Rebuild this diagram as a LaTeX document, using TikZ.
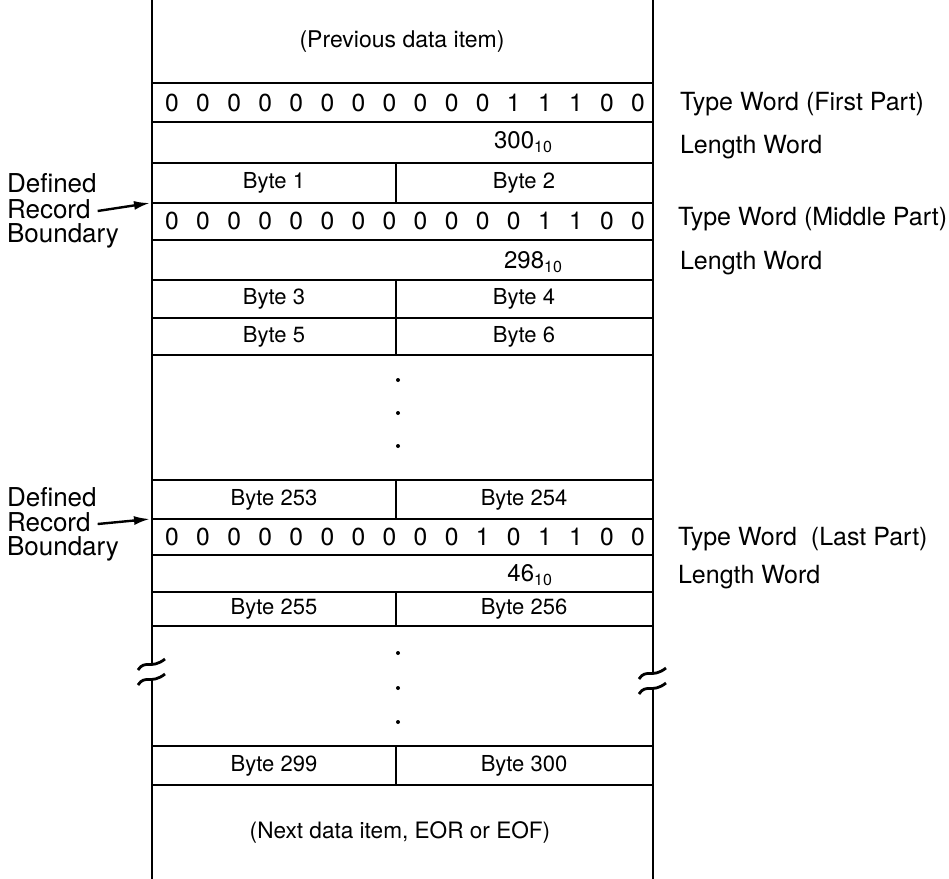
\documentclass[tikz,border=0pt]{standalone}
\usepackage{fontspec}
\setmainfont{TeX Gyre Heros}
\usepackage{tikz}
\usetikzlibrary{arrows.meta}

\begin{document}
\begin{tikzpicture}[x=0.5pt,y=-0.5pt,
  rule/.style={line width=1.4pt},
  brk/.style={line width=1.4pt},
  bitval/.style={font=\fontsize{12.3}{14}\selectfont},
  cellval/.style={font=\fontsize{11}{13}\selectfont},
  lenval/.style={font=\fontsize{12}{14}\selectfont,anchor=east},
  sidenote/.style={font=\fontsize{12.5}{14}\selectfont,anchor=west},
  bndarrow/.style={line width=1.2pt,-{Latex[length=8pt,width=4.5pt]}}]
  \useasboundingbox (0,0) rectangle (949,879);
  \draw[rule] (152,0) -- (152,664);
  \draw[rule] (152,680) -- (152,879);
  \draw[rule] (653,0) -- (653,673);
  \draw[rule] (653,689) -- (653,879);
  \foreach \x/\y in {152/664,152/679,653/673,653/688}
    \draw[brk] (\x-14,\y+6) .. controls (\x-7,\y-5) and (\x-1,\y+6) .. (\x+13,\y-5);
  \foreach \y in {83,122,163,203,240,280,318,355,480,519,555,592,626,746,785}
    \draw[rule] (152,\y) -- (653,\y);
  \foreach \a/\b in {163/203,280/318,318/355,480/519,592/626,746/785}
    \draw[rule] (396,\a) -- (396,\b);
  \node[cellval,font=\fontsize{11.5}{13}\selectfont] (prev) at (402,42) {(Previous data item)};
  \node[cellval,font=\fontsize{11.3}{13}\selectfont] (next) at (400,832) {(Next data item, EOR or EOF)};
  \foreach \b [count=\i from 0] in {0,0,0,0,0,0,0,0,0,0,0,1,1,1,0,0}
    \node[bitval] (first\i) at (172+31.07*\i,103) {\b};
  \foreach \b [count=\i from 0] in {0,0,0,0,0,0,0,0,0,0,0,0,1,1,0,0}
    \node[bitval] (middle\i) at (172+31.07*\i,221) {\b};
  \foreach \b [count=\i from 0] in {0,0,0,0,0,0,0,0,0,0,1,0,1,1,0,0}
    \node[bitval] (last\i) at (172+31.07*\i,537) {\b};
  \node[lenval] (len1) at (560,142) {300\textsubscript{10}};
  \node[lenval] (len2) at (570,262) {298\textsubscript{10}};
  \node[lenval] (len3) at (560,575) {46\textsubscript{10}};
  \foreach \l/\r/\y in {1/2/183,3/4/299,5/6/337,253/254/500,255/256/609,299/300/766} {
    \node[cellval] (byte\l) at (274,\y) {Byte \l};
    \node[cellval] (byte\r) at (524,\y) {Byte \r};
  }
  \foreach \y in {380,413,446,653,688,722}
    \fill (398,\y) circle[radius=2];
  \node[sidenote] (tw1) at (673,104) {Type Word (First Part)};
  \node[sidenote] (lw1) at (673,147) {Length Word};
  \node[sidenote] (tw2) at (671,219) {Type Word (Middle Part)};
  \node[sidenote] (lw2) at (673,263) {Length Word};
  \node[sidenote] (tw3) at (671,539) {Type Word\ \ (Last Part)};
  \node[sidenote] (lw3) at (671,577) {Length Word};
  \node[sidenote,font=\fontsize{13}{15}\selectfont] (def1) at (0,183) {Defined};
  \node[sidenote,font=\fontsize{13}{15}\selectfont] (rec1) at (0,209) {Record};
  \node[sidenote,font=\fontsize{13}{15}\selectfont] (bdy1) at (0,236) {Boundary};
  \node[sidenote,font=\fontsize{13}{15}\selectfont] (def2) at (0,497) {Defined};
  \node[sidenote,font=\fontsize{13}{15}\selectfont] (rec2) at (0,522) {Record};
  \node[sidenote,font=\fontsize{13}{15}\selectfont] (bdy2) at (0,549) {Boundary};
  \coordinate (bnd1) at (150,203);
  \coordinate (bnd2) at (150,519);
  \draw[bndarrow] ([yshift=-1pt]rec1.east) -- (bnd1);
  \draw[bndarrow] ([yshift=-1pt]rec2.east) -- (bnd2);
\end{tikzpicture}
\end{document}
